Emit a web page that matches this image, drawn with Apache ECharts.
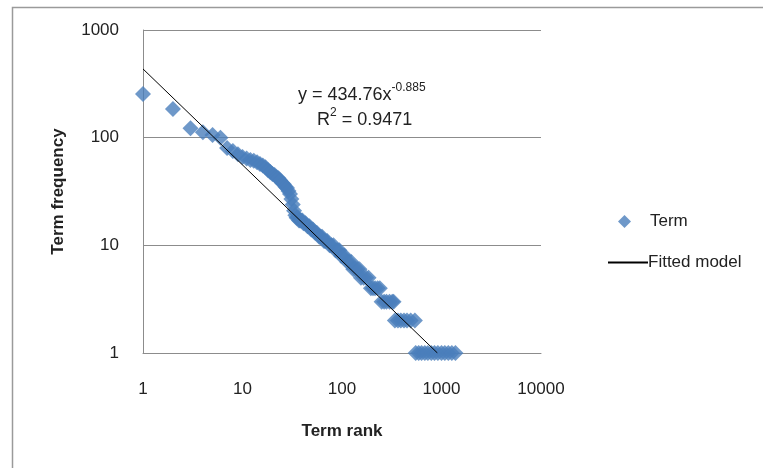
<!DOCTYPE html>
<html>
<head>
<meta charset="utf-8">
<script src="https://cdn.jsdelivr.net/npm/echarts@6/dist/echarts.min.js"></script>
<style>
  html, body { margin: 0; padding: 0; background: #fff; }
  #chart { width: 763px; height: 468px; }
</style>
</head>
<body>
<div id="chart"></div>
<script>
// term rank / term frequency
const termRanks = [
  1, 2, 3, 4, 5, 6, 7, 8, 9, 10, 11, 12, 13, 14, 15, 16, 17, 18, 19, 20,
  21, 22, 23, 24, 25, 26, 27, 28, 29, 30, 31, 32, 33, 34, 35, 36, 37, 38, 39, 40,
  41, 43, 45, 47, 49, 51, 54, 56, 59, 61, 63, 66, 68, 71, 75, 78, 82, 86, 90, 94,
  98, 102, 106, 113, 118, 124, 130, 137, 144, 150, 155, 165, 175, 185,
  195, 205, 215, 228, 240, 250, 265, 280, 300, 320, 330,
  340, 365, 390, 420, 450, 490, 540,
  550, 590, 630, 680, 730, 790, 850, 920, 1000, 1080, 1170, 1270, 1380
]
const termFreqs = [
  255, 185, 122, 112, 106, 100, 80, 75, 70, 66, 64, 62, 61, 59, 57, 55, 53, 50, 48, 46,
  45, 43, 42, 40, 38, 37, 35, 34, 32, 30, 27, 24, 21, 19, 18, 18, 17, 17, 17, 17,
  16, 16, 15, 15, 14, 14, 13, 13, 12, 12, 12, 11, 11, 11, 10, 10, 10, 9, 9, 9,
  8, 8, 8, 7, 7, 7, 6, 6, 6, 6, 5, 5, 5, 5,
  4, 4, 4, 4, 4, 3, 3, 3, 3, 3, 3,
  2, 2, 2, 2, 2, 2, 2,
  1, 1, 1, 1, 1, 1, 1, 1, 1, 1, 1, 1, 1
]
// fitted model end points (y = 434.76x^-0.885)
const fitRanks = [1, 910]
const fitFreqs = [434.76, 1]

const xTicks = [1, 10, 100, 1000, 10000]
const yTicks = [1, 10, 100, 1000]

const font = 'Liberation Sans'
const textColor = '#222'

const chart = echarts.init(document.getElementById('chart'))

let option = {
  backgroundColor: '#fff',
  animation: false,
  textStyle: { fontFamily: font },
  grid: {
    left: 143,
    right: 222,
    top: 30,
    bottom: 115,
  },
  legend: [
    {
      orient: 'vertical',
      left: 613,
      top: 208,
      itemWidth: 13,
      itemHeight: 13,
      data: [{ name: 'Term', icon: 'diamond' }],
      textStyle: { fontSize: 17, color: textColor, fontFamily: font, padding: [0, 0, 0, 14] },
    },
    {
      orient: 'vertical',
      left: 603,
      top: 249,
      itemWidth: 40,
      itemHeight: 2,
      data: [{ name: 'Fitted model', icon: 'rect' }],
      textStyle: { fontSize: 17, color: textColor, fontFamily: font, padding: [0, 0, 0, -5] },
    },
  ],
  xAxis: {
    type: 'log',
    logBase: 10,
    min: xTicks[0],
    max: xTicks[xTicks.length - 1],
    name: 'Term rank',
    nameLocation: 'middle',
    nameGap: 70,
    nameTextStyle: { fontSize: 17, fontWeight: 'bold', color: textColor, fontFamily: font },
    axisLine: { show: true, lineStyle: { color: '#8c8c8c', width: 1 } },
    axisTick: { show: false },
    splitLine: { show: false },
    axisLabel: { fontSize: 17, color: textColor, margin: 28, fontFamily: font, formatter: (v) => String(v) },
  },
  yAxis: {
    type: 'log',
    logBase: 10,
    min: yTicks[0],
    max: yTicks[yTicks.length - 1],
    name: 'Term frequency',
    nameLocation: 'middle',
    nameGap: 76,
    nameTextStyle: { fontSize: 17, fontWeight: 'bold', color: textColor, fontFamily: font },
    axisLine: { show: true, onZero: false, lineStyle: { color: '#8c8c8c', width: 1 } },
    axisTick: { show: false },
    splitLine: { show: true, lineStyle: { color: '#8c8c8c', width: 1 } },
    axisLabel: { fontSize: 17, color: textColor, margin: 24, fontFamily: font, formatter: (v) => String(v) },
  },
  graphic: [
    {
      type: 'rect',
      silent: true,
      shape: { x: 12.5, y: 7.5, width: 800, height: 500 },
      style: { fill: 'none', stroke: '#9a9a9a', lineWidth: 1.5 },
      z: -10,
    },
    {
      type: 'text',
      left: 298,
      top: 82,
      style: {
        text: '{b|y = 434.76x}{s|-0.885}',
        rich: {
          b: { fontSize: 18, fontFamily: font, fill: textColor, lineHeight: 22, verticalAlign: 'bottom' },
          s: { fontSize: 12, fontFamily: font, fill: textColor, lineHeight: 22, verticalAlign: 'top' },
        },
      },
    },
    {
      type: 'text',
      left: 317,
      top: 107,
      style: {
        text: '{b|R}{s|2}{b| = 0.9471}',
        rich: {
          b: { fontSize: 18, fontFamily: font, fill: textColor, lineHeight: 22, verticalAlign: 'bottom' },
          s: { fontSize: 12, fontFamily: font, fill: textColor, lineHeight: 22, verticalAlign: 'top' },
        },
      },
    },
  ],
  series: [
    {
      name: 'Term',
      type: 'scatter',
      symbol: 'diamond',
      symbolSize: 16,
      itemStyle: { color: '#4a7ebb' },
      data: termRanks.map((r, i) => [r, termFreqs[i]]),
      z: 2,
    },
    {
      name: 'Fitted model',
      type: 'line',
      showSymbol: false,
      symbol: 'none',
      lineStyle: { color: '#000', width: 1 },
      itemStyle: { color: '#000' },
      data: fitRanks.map((r, i) => [r, fitFreqs[i]]),
      z: 3,
    },
  ],
}

chart.setOption(option)
</script>
</body>
</html>
